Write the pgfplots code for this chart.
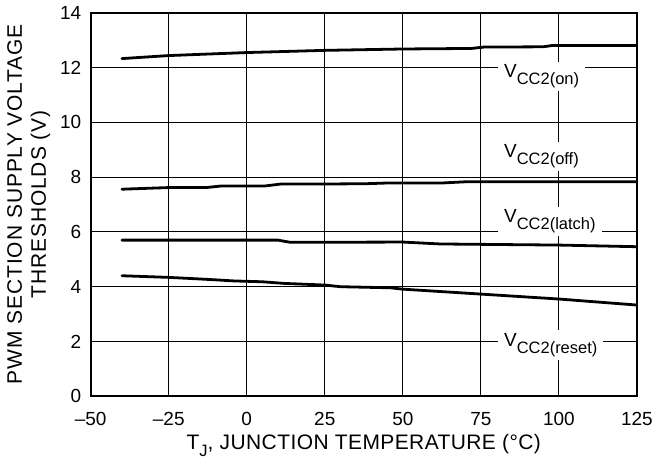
\documentclass[border={1bp 8bp 4bp 0bp}]{standalone}
\usepackage{fontspec}
\setmainfont{Liberation Sans}
\newfontfamily\lab{Liberation Sans}[LetterSpace=2]
\newfontfamily\ylab{Liberation Sans}[LetterSpace=4.5]
\usepackage{pgfplots}
\pgfplotsset{compat=1.18}
\newcommand\sub[1]{\raisebox{-7bp}{\fontsize{16.5bp}{18bp}\selectfont #1}}
\begin{document}
\fontsize{19bp}{23bp}\selectfont
\begin{tikzpicture}
\begin{axis}[
  scale only axis, width=547bp, height=384bp,
  xmin=-50, xmax=125, ymin=0, ymax=14,
  xtick={-50,-25,0,25,50,75,100,125},
  xticklabels={–50,–25,0,25,50,75,100,125},
  ytick={0,2,4,6,8,10,12,14},
  /pgf/number format/assume math mode=true,
  grid=major,
  major grid style={black, line width=0.9bp},
  axis line style={line width=1.8bp},
  major tick length=0pt,
  xticklabel style={yshift=-10bp},
  yticklabel style={xshift=-3bp},
  xlabel={\lab T\sub{J}, JUNCTION TEMPERATURE (°C)},
  ylabel={\ylab PWM SECTION SUPPLY VOLTAGE\\\ylab THRESHOLDS (V)},
  ylabel style={align=center, yshift=-3bp, font=\fontsize{21bp}{24bp}\selectfont},
  xlabel style={yshift=5bp, font=\fontsize{21bp}{24bp}\selectfont},
  cycle list={{black, no markers}},
  every axis plot/.append style={line width=2.8bp, line join=round, line cap=round},
]
\addplot coordinates {(-40,12.33) (-25,12.44) (0,12.55) (25,12.63) (50,12.68) (72,12.70) (76,12.75) (95,12.76) (98,12.81) (125,12.81)};
\addplot coordinates {(-40,7.56) (-25,7.62) (-13,7.62) (-8,7.68) (0,7.68) (6,7.68) (11,7.75) (25,7.75) (38,7.76) (46,7.79) (63,7.79) (70,7.83) (125,7.83)};
\addplot coordinates {(-40,5.70) (10,5.70) (14,5.62) (50,5.63) (62,5.56) (100,5.52) (125,5.46)};
\addplot coordinates {(-40,4.40) (-25,4.34) (-13,4.27) (-4,4.21) (5,4.18) (12,4.12) (25,4.06) (30,4.00) (46,3.96) (50,3.91) (75,3.73) (100,3.55) (125,3.33)};
\node[anchor=base west, fill=white, inner xsep=6bp, inner ysep=3bp] at (axis cs:80.5,11.63) {V\sub{CC2(on)}};
\node[anchor=base west, fill=white, inner xsep=6bp, inner ysep=3bp] at (axis cs:80.5,8.71) {V\sub{CC2(off)}};
\node[anchor=base west, fill=white, inner xsep=6bp, inner ysep=3bp] at (axis cs:80.5,6.34) {V\sub{CC2(latch)}};
\node[anchor=base west, fill=white, inner xsep=6bp, inner ysep=3bp] at (axis cs:80.5,1.82) {V\sub{CC2(reset)}};
\end{axis}
\end{tikzpicture}
\end{document}
